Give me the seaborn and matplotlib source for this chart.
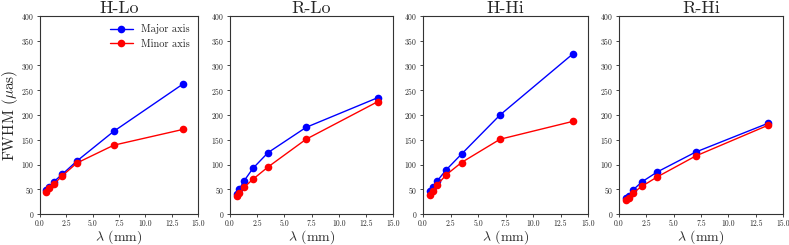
import numpy as np
import pandas as pd
import matplotlib
matplotlib.use("Agg")
import matplotlib.pyplot as plt
import seaborn as sns

# longitudes de onda (mm)
wavelength = [0.6, 0.87, 1.3, 2.1, 3.5, 7.0, 13.6]
paneles = ["H-Lo", "R-Lo", "H-Hi", "R-Hi"]

# FWHM en micro-arcsec
major_axis = {
    "H-Lo": [48, 55, 65, 80, 107, 167, 263],
    "R-Lo": [40, 51, 67, 92, 124, 175, 235],
    "H-Hi": [47, 55, 67, 89, 121, 200, 323],
    "R-Hi": [32, 37, 49, 65, 85, 125, 183],
}
minor_axis = {
    "H-Lo": [45, 52, 60, 77, 103, 139, 171],
    "R-Lo": [37, 43, 54, 70, 95, 151, 227],
    "H-Hi": [39, 47, 59, 79, 104, 151, 187],
    "R-Hi": [28, 33, 43, 56, 75, 117, 179],
}

sns.set_style("ticks")
plt.rcParams["font.family"] = ["cmr10", "DejaVu Serif"]
plt.rcParams["mathtext.fontset"] = "cm"
plt.rcParams["axes.formatter.use_mathtext"] = True
plt.rcParams["axes.unicode_minus"] = False

filas = []
for p in paneles:
    for lam, v in zip(wavelength, major_axis[p]):
        filas.append({"panel": p, "lam": lam, "fwhm": v, "eje": "Major axis"})
    for lam, v in zip(wavelength, minor_axis[p]):
        filas.append({"panel": p, "lam": lam, "fwhm": v, "eje": "Minor axis"})
data = pd.DataFrame(filas)

fig = plt.figure(figsize=(7.89, 2.45), dpi=100)
# posiciones de los ejes en pixeles (izq, der)
bordes = [(40, 198), (230, 393), (423, 588), (619, 783)]
W, H = 789, 245
for i, p in enumerate(paneles):
    x0, x1 = bordes[i]
    ax = fig.add_axes([x0 / W, (H - 214) / H, (x1 - x0) / W, 198 / H])
    sub = data[data["panel"] == p]
    sns.lineplot(data=sub, x="lam", y="fwhm", hue="eje",
                 palette={"Major axis": "blue", "Minor axis": "red"},
                 marker="o", markersize=5.5, markeredgewidth=0, linewidth=1.0,
                 ax=ax, legend=(i == 0))
    ax.set_xlim(0, 15)
    ax.set_ylim(0, 400)
    ax.set_xticks(np.arange(0, 15.1, 2.5))
    ax.set_xticklabels(["%.1f" % t for t in np.arange(0, 15.1, 2.5)])
    ax.set_yticks(np.arange(0, 401, 50))
    ax.tick_params(labelsize=5.5, length=2.5, width=0.6, pad=1.5)
    for s in ax.spines.values():
        s.set_linewidth(0.8)
        s.set_color("#333333")
    ax.set_title(p, fontsize=13, pad=2)
    ax.set_xlabel(r"$\lambda$ (mm)", fontsize=10, labelpad=0)
    if i == 0:
        ax.set_ylabel(r"FWHM ($\mu$as)", fontsize=11, labelpad=1)
        ax.legend(frameon=False, fontsize=7.5, loc="upper right",
                  handlelength=2.2, borderaxespad=0.4)
    else:
        ax.set_ylabel("")

fig.savefig("out.png", dpi=100)
